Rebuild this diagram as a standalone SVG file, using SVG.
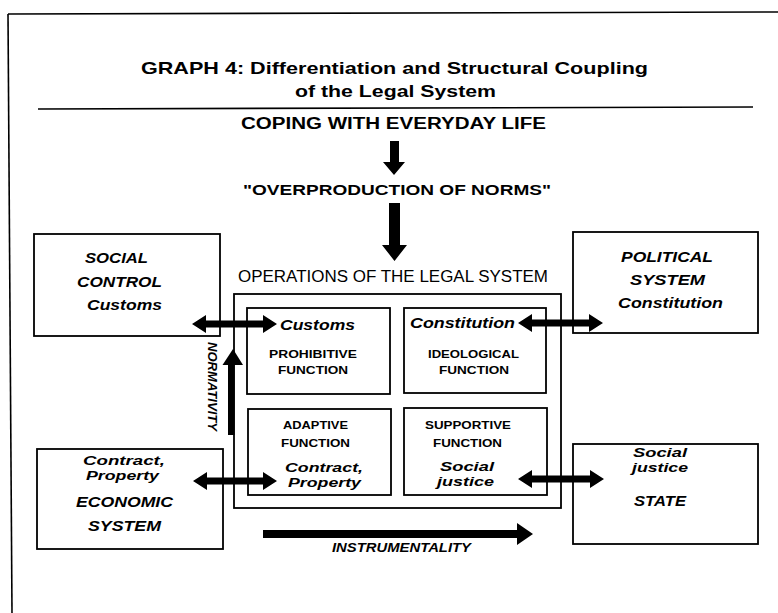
<svg xmlns="http://www.w3.org/2000/svg" width="778" height="613" viewBox="0 0 778 613">
  <style>
    text { fill: #000; font-family: "Liberation Sans", Arial, sans-serif; }
    .title { font-size: 17px; font-weight: bold; }
    .head { font-size: 16px; font-weight: bold; }
    .sub { font-size: 14px; font-weight: bold; }
    .reg { font-size: 16px; font-weight: normal; }
    .lab { font-size: 15px; font-weight: bold; font-style: italic; }
    .lab14 { font-size: 14px; font-weight: bold; font-style: italic; }
    .pair { font-size: 13.5px; font-weight: bold; font-style: italic; }
    .fn { font-size: 11.5px; font-weight: bold; }
    .axis { font-size: 13.5px; font-weight: bold; font-style: italic; }
    .axis12 { font-size: 12px; font-weight: bold; font-style: italic; }
    .box { fill: none; stroke: #000; stroke-width: 1.8; }
    .rule { fill: none; stroke: #000; stroke-width: 1.6; }
    .arrow { fill: #000; stroke: none; }
  </style>

  <rect width="778" height="613" fill="#fff"/>

  <!-- page frame and title rule -->
  <g id="frame">
    <path class="rule" d="M8 14 L778 12"/>
    <path class="rule" d="M8 14 L12 613"/>
    <path class="rule" d="M38 109 L753 107"/>
  </g>

  <!-- heading -->
  <g id="title">
    <text class="title" x="141" y="74" textLength="507" lengthAdjust="spacingAndGlyphs">GRAPH 4: Differentiation and Structural Coupling</text>
    <text class="title" x="295" y="97" textLength="201" lengthAdjust="spacingAndGlyphs">of the Legal System</text>
  </g>

  <g id="everyday">
    <text class="head" x="241" y="129" textLength="305" lengthAdjust="spacingAndGlyphs">COPING WITH EVERYDAY LIFE</text>
  </g>

  <g id="overproduction">
    <text class="sub" x="243" y="195" textLength="308" lengthAdjust="spacingAndGlyphs">"OVERPRODUCTION OF NORMS"</text>
  </g>

  <!-- legal system with its four functions -->
  <g id="legal-system">
    <text class="reg" x="238" y="282" textLength="310" lengthAdjust="spacingAndGlyphs">OPERATIONS OF THE LEGAL SYSTEM</text>
    <rect class="box" x="234" y="294" width="327" height="214"/>
  </g>

  <g id="prohibitive">
    <rect class="box" x="247" y="308" width="143" height="86"/>
    <text class="lab14" x="280" y="330" textLength="75" lengthAdjust="spacingAndGlyphs">Customs</text>
    <text class="fn" x="269" y="358" textLength="88" lengthAdjust="spacingAndGlyphs">PROHIBITIVE</text>
    <text class="fn" x="278" y="374" textLength="70" lengthAdjust="spacingAndGlyphs">FUNCTION</text>
  </g>

  <g id="ideological">
    <rect class="box" x="404" y="308" width="142" height="85"/>
    <text class="lab14" x="410" y="328" textLength="105" lengthAdjust="spacingAndGlyphs">Constitution</text>
    <text class="fn" x="428" y="358" textLength="91" lengthAdjust="spacingAndGlyphs">IDEOLOGICAL</text>
    <text class="fn" x="439" y="374" textLength="70" lengthAdjust="spacingAndGlyphs">FUNCTION</text>
  </g>

  <g id="adaptive">
    <rect class="box" x="248" y="409" width="143" height="86"/>
    <text class="fn" x="283" y="429" textLength="65" lengthAdjust="spacingAndGlyphs">ADAPTIVE</text>
    <text class="fn" x="281" y="447" textLength="69" lengthAdjust="spacingAndGlyphs">FUNCTION</text>
    <text class="pair" x="285" y="472" textLength="78" lengthAdjust="spacingAndGlyphs">Contract,</text>
    <text class="pair" x="288" y="487" textLength="73" lengthAdjust="spacingAndGlyphs">Property</text>
  </g>

  <g id="supportive">
    <rect class="box" x="404" y="408" width="143" height="87"/>
    <text class="fn" x="425" y="429" textLength="86" lengthAdjust="spacingAndGlyphs">SUPPORTIVE</text>
    <text class="fn" x="433" y="447" textLength="69" lengthAdjust="spacingAndGlyphs">FUNCTION</text>
    <text class="pair" x="440" y="471" textLength="54" lengthAdjust="spacingAndGlyphs">Social</text>
    <text class="pair" x="437" y="486" textLength="57" lengthAdjust="spacingAndGlyphs">justice</text>
  </g>

  <!-- surrounding systems -->
  <g id="social-control">
    <rect class="box" x="34" y="234" width="186" height="102"/>
    <text class="lab" x="85" y="263" textLength="63" lengthAdjust="spacingAndGlyphs">SOCIAL</text>
    <text class="lab" x="77" y="287" textLength="85" lengthAdjust="spacingAndGlyphs">CONTROL</text>
    <text class="lab" x="87" y="310" textLength="75" lengthAdjust="spacingAndGlyphs">Customs</text>
  </g>

  <g id="political-system">
    <rect class="box" x="573" y="232" width="185" height="101"/>
    <text class="lab" x="621" y="262" textLength="92" lengthAdjust="spacingAndGlyphs">POLITICAL</text>
    <text class="lab" x="630" y="285" textLength="75" lengthAdjust="spacingAndGlyphs">SYSTEM</text>
    <text class="lab" x="618" y="308" textLength="105" lengthAdjust="spacingAndGlyphs">Constitution</text>
  </g>

  <g id="economic-system">
    <rect class="box" x="37" y="449" width="186" height="100"/>
    <text class="pair" x="83" y="465" textLength="82" lengthAdjust="spacingAndGlyphs">Contract,</text>
    <text class="pair" x="86" y="480" textLength="73" lengthAdjust="spacingAndGlyphs">Property</text>
    <text class="lab" x="76" y="507" textLength="97" lengthAdjust="spacingAndGlyphs">ECONOMIC</text>
    <text class="lab" x="88" y="531" textLength="73" lengthAdjust="spacingAndGlyphs">SYSTEM</text>
  </g>

  <g id="state">
    <rect class="box" x="573" y="444" width="185" height="100"/>
    <text class="pair" x="633" y="457" textLength="54" lengthAdjust="spacingAndGlyphs">Social</text>
    <text class="pair" x="632" y="472" textLength="56" lengthAdjust="spacingAndGlyphs">justice</text>
    <text class="lab" x="634" y="506" textLength="52" lengthAdjust="spacingAndGlyphs">STATE</text>
  </g>

  <!-- connectors -->
  <g id="connectors">
    <!-- everyday life to overproduction of norms -->
    <path class="arrow" d="M390 141 H399 V162 H405 L394 175 L383 162 H390 Z"/>
    <!-- overproduction into the legal system -->
    <path class="arrow" d="M389 203 H400 V245 H407 L394.5 261 L382 245 H389 Z"/>
    <!-- social control <-> customs -->
    <path class="arrow" d="M192 324 L206 315 V320.5 H263 V315 L277 324 L263 333 V327.5 H206 V333 Z"/>
    <!-- constitution <-> political system -->
    <path class="arrow" d="M518 323 L532 314 V319.5 H589 V314 L603 323 L589 332 V326.5 H532 V332 Z"/>
    <!-- economic system <-> contract, property -->
    <path class="arrow" d="M193 481 L207 472 V477.5 H263 V472 L277 481 L263 490 V484.5 H207 V490 Z"/>
    <!-- social justice <-> state -->
    <path class="arrow" d="M518 479 L532 470 V475.5 H590 V470 L604 479 L590 488 V482.5 H532 V488 Z"/>
    <!-- normativity -->
    <path class="arrow" d="M228 435 V365 H222.5 L233 349 L243 365 H234.5 V435 Z"/>
    <!-- instrumentality -->
    <path class="arrow" d="M263 530 H517 V523 L533 534 L517 545 V538 H263 Z"/>
  </g>

  <g id="axis-labels">
    <text class="axis" transform="translate(208,342) rotate(90)" textLength="89" lengthAdjust="spacingAndGlyphs">NORMATIVITY</text>
    <text class="axis12" x="332" y="552" textLength="139" lengthAdjust="spacingAndGlyphs">INSTRUMENTALITY</text>
  </g>
</svg>
